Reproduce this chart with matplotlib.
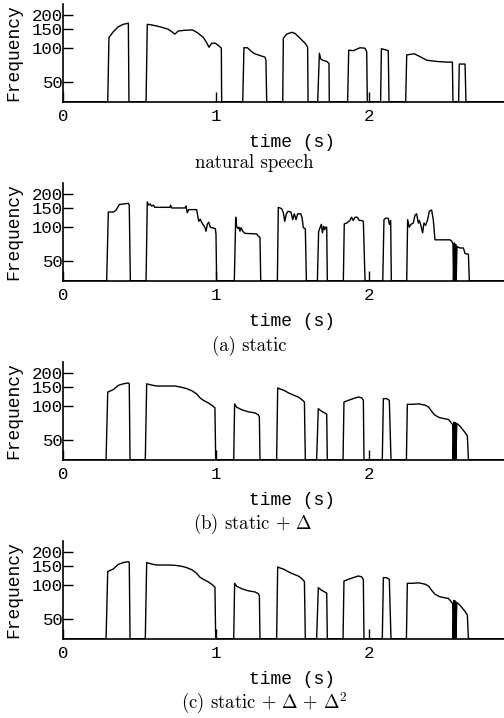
import numpy as np
import matplotlib
matplotlib.use('Agg')
import matplotlib.pyplot as plt
from matplotlib.ticker import NullLocator

# F0 contours (Hz), 0 = unvoiced
t_nat = [0.0, 0.291, 0.299, 0.328, 0.360, 0.393, 0.426, 0.430,
         0.542, 0.550, 0.579, 0.633, 0.688, 0.731, 0.753, 0.797, 0.847, 0.878, 0.917, 0.939,
         0.954, 0.972, 0.996, 1.026, 1.035, 1.037,
         1.175, 1.183, 1.205, 1.234, 1.255, 1.288, 1.321, 1.327, 1.332,
         1.437, 1.441, 1.463, 1.496, 1.517, 1.550, 1.583, 1.600, 1.603,
         1.666, 1.677, 1.686, 1.699, 1.725, 1.740, 1.742,
         1.862, 1.869, 1.899, 1.943, 1.976, 1.987, 1.991,
         2.078, 2.083, 2.118, 2.128, 2.133,
         2.242, 2.249, 2.271, 2.299, 2.336, 2.380, 2.445, 2.511, 2.548, 2.552,
         2.589, 2.593, 2.631, 2.637, 2.95]
f_nat = [0, 0, 125, 141, 156, 164, 168, 0,
         0, 164, 162, 156, 148, 134, 143, 145, 146, 138, 125, 112,
         102, 111, 111, 103, 100, 0,
         0, 101, 101, 93, 89, 86, 83, 78, 0,
         0, 123, 134, 139, 136, 123, 111, 102, 0,
         0, 90, 80, 78, 76, 73, 0,
         0, 96, 95, 101, 100, 93, 0,
         0, 99, 96, 95, 0,
         0, 87, 88, 89, 84, 78, 76, 75, 75, 0,
         0, 72, 72, 0, 0]

t_sta = [0.0, 0.284, 0.295, 0.328, 0.345, 0.367, 0.426, 0.432, 0.439,
         0.542, 0.550, 0.559, 0.568, 0.579, 0.590, 0.600, 0.699, 0.703, 0.710, 0.797, 0.803,
         0.812, 0.821, 0.873, 0.880, 0.887, 0.897, 0.908, 0.919, 0.928, 0.935, 0.943, 0.952,
         0.963, 0.974, 0.996, 1.000, 1.004,
         1.120, 1.129, 1.135, 1.144, 1.151, 1.157, 1.164, 1.175, 1.190, 1.266, 1.277, 1.288, 1.293,
         1.402, 1.408, 1.430, 1.441, 1.450, 1.461, 1.472, 1.491, 1.502, 1.513, 1.524, 1.535,
         1.555, 1.564, 1.572, 1.585, 1.592,
         1.664, 1.672, 1.681, 1.690, 1.697, 1.705, 1.712, 1.718, 1.725, 1.729,
         1.834, 1.840, 1.856, 1.877, 1.888, 1.899, 1.910, 1.925, 1.939, 1.954, 1.965, 1.976,
         2.092, 2.100, 2.114, 2.129, 2.135, 2.144, 2.148,
         2.249, 2.255, 2.266, 2.277, 2.292, 2.303, 2.314, 2.325, 2.332, 2.340, 2.353, 2.362,
         2.373, 2.386, 2.397, 2.412, 2.423, 2.434, 2.532, 2.543, 2.552, 2.555, 2.561, 2.564,
         2.570, 2.573, 2.578, 2.598, 2.620, 2.631, 2.653, 2.659, 2.95]
f_sta = [0, 0, 137, 137, 142, 160, 164, 158, 0,
         0, 169, 158, 162, 155, 158, 151, 151, 158, 149, 149, 155,
         135, 144, 144, 128, 113, 118, 109, 104, 99, 92, 106, 111,
         100, 99, 97, 86, 0,
         0, 123, 102, 97, 100, 92, 99, 92, 88, 87, 83, 81, 0,
         0, 151, 147, 135, 113, 132, 139, 137, 117, 132, 117, 132,
         132, 121, 99, 97, 0,
         0, 91, 99, 106, 89, 102, 95, 100, 100, 0,
         0, 107, 109, 115, 123, 115, 123, 123, 115, 115, 113, 0,
         0, 117, 121, 120, 106, 115, 0,
         0, 117, 100, 106, 109, 128, 132, 109, 115, 106, 89, 109,
         104, 117, 139, 143, 117, 77, 77, 75, 71, 0, 72, 0,
         70, 0, 67, 65, 65, 58, 57, 0, 0]

t_d1 = [0.0, 0.280, 0.291, 0.328, 0.360, 0.393, 0.426, 0.432, 0.437,
        0.537, 0.546, 0.579, 0.611, 0.677, 0.732, 0.775, 0.808, 0.841, 0.873, 0.895, 0.917,
        0.950, 0.972, 0.993, 0.998,
        1.116, 1.122, 1.135, 1.168, 1.212, 1.255, 1.277, 1.284, 1.288,
        1.397, 1.404, 1.419, 1.445, 1.474, 1.506, 1.539, 1.561, 1.579, 1.585,
        1.659, 1.670, 1.692, 1.725, 1.729,
        1.832, 1.838, 1.867, 1.899, 1.932, 1.954, 1.965, 1.969,
        2.089, 2.096, 2.117, 2.135, 2.146,
        2.247, 2.253, 2.285, 2.328, 2.371, 2.393, 2.412, 2.434, 2.463, 2.500, 2.522, 2.537,
        2.550, 2.553, 2.559, 2.562, 2.568, 2.571, 2.577, 2.598, 2.631, 2.646, 2.653, 2.95]
f_d1 = [0, 0, 134, 141, 154, 159, 162, 159, 0,
        0, 159, 155, 152, 152, 152, 148, 144, 138, 129, 119, 113,
        107, 102, 97, 0,
        0, 105, 98, 93, 89, 87, 84, 80, 0,
        0, 146, 143, 139, 132, 126, 121, 115, 109, 0,
        0, 95, 90, 85, 0,
        0, 109, 113, 117, 121, 119, 113, 0,
        0, 117, 117, 113, 0,
        0, 104, 104, 105, 102, 98, 90, 83, 79, 77, 76, 72,
        68, 0, 72, 0, 71, 0, 70, 66, 58, 54, 0, 0]

t_d2 = [0.0, 0.280, 0.291, 0.328, 0.360, 0.393, 0.426, 0.432, 0.437,
        0.537, 0.546, 0.579, 0.611, 0.677, 0.732, 0.775, 0.808, 0.841, 0.873, 0.895, 0.917,
        0.950, 0.972, 0.993, 0.998,
        1.116, 1.122, 1.135, 1.168, 1.212, 1.255, 1.277, 1.284, 1.288,
        1.397, 1.404, 1.419, 1.445, 1.474, 1.506, 1.539, 1.561, 1.579, 1.585,
        1.659, 1.670, 1.692, 1.725, 1.729,
        1.832, 1.838, 1.867, 1.899, 1.932, 1.954, 1.965, 1.969,
        2.089, 2.096, 2.117, 2.135, 2.146,
        2.247, 2.253, 2.285, 2.328, 2.371, 2.393, 2.412, 2.434, 2.463, 2.500, 2.522, 2.537,
        2.550, 2.553, 2.559, 2.562, 2.568, 2.571, 2.577, 2.598, 2.631, 2.646, 2.653, 2.95]
f_d2 = [0, 0, 133, 140, 154, 160, 163, 160, 0,
        0, 160, 155, 152, 152, 151, 148, 144, 138, 128, 118, 113,
        107, 102, 96, 0,
        0, 104, 98, 93, 89, 87, 84, 80, 0,
        0, 146, 143, 139, 132, 126, 121, 115, 108, 0,
        0, 95, 90, 85, 0,
        0, 109, 113, 117, 121, 119, 112, 0,
        0, 117, 117, 113, 0,
        0, 104, 104, 105, 102, 98, 90, 83, 79, 77, 76, 72,
        68, 0, 73, 0, 72, 0, 70, 66, 58, 54, 0, 0]

series = [(t_nat, f_nat), (t_sta, f_sta), (t_d1, f_d1), (t_d2, f_d2)]
captions = ['natural speech', '(a) static', r'(b) static $+\ \Delta$',
            r'(c) static $+\ \Delta\, +\, \Delta^2$']
caption_xy = [(254.5, 168.3), (249.4, 350.7), (253, 529), (264, 709)]
yticks = [50, 100, 150, 200]
xticks = [0, 1, 2]
F_MIN, F_MAX = 33, 250

plt.rcParams['font.family'] = 'Liberation Mono'
plt.rcParams['mathtext.fontset'] = 'cm'

W, H = 504, 718
fig = plt.figure(figsize=(W / 100, H / 100), dpi=100)

x0, px_per_s, ax_h = 63.3, 152.7, 97.7
for i, (t, f) in enumerate(series):
    bottom = 101.7 + 179 * i
    ax = fig.add_axes([x0 / W, (H - bottom) / H, 3.0 * px_per_s / W, ax_h / H])
    f = np.asarray(f, dtype=float)
    ax.plot(t, np.where(f > 0, f, F_MIN), color='black', lw=1.0)
    ax.set_yscale('log')
    ax.set_xlim(0, 3)
    ax.set_ylim(F_MIN, F_MAX)
    ax.set_yticks(yticks)
    ax.set_yticklabels([str(v) for v in yticks])
    ax.yaxis.set_minor_locator(NullLocator())
    ax.set_xticks(xticks)
    ax.set_xticklabels([str(v) for v in xticks])
    ax.tick_params(direction='in', length=7, width=1, labelsize=12.5)
    ax.tick_params(axis='y', pad=0)
    ax.tick_params(axis='x', pad=5)
    for s in ['top', 'right']:
        ax.spines[s].set_visible(False)
    for s in ['left', 'bottom']:
        ax.spines[s].set_linewidth(1.2)
    ax.set_xlabel('time (s)', fontsize=13)
    ax.xaxis.set_label_coords(0.5, -41 / ax_h)
    ax.xaxis.label.set_va('center')
    ax.set_ylabel('Frequency', fontsize=13)
    ax.yaxis.set_label_coords(-(x0 - 13.5) / (3.0 * px_per_s), 0.5)
    ax.yaxis.label.set_va('center')
    cx, cy = caption_xy[i]
    fig.text(cx / W, 1 - cy / H, captions[i], ha='center', va='baseline',
             family='cmr10', fontsize=13.5)

fig.savefig('out.png', dpi=100)
